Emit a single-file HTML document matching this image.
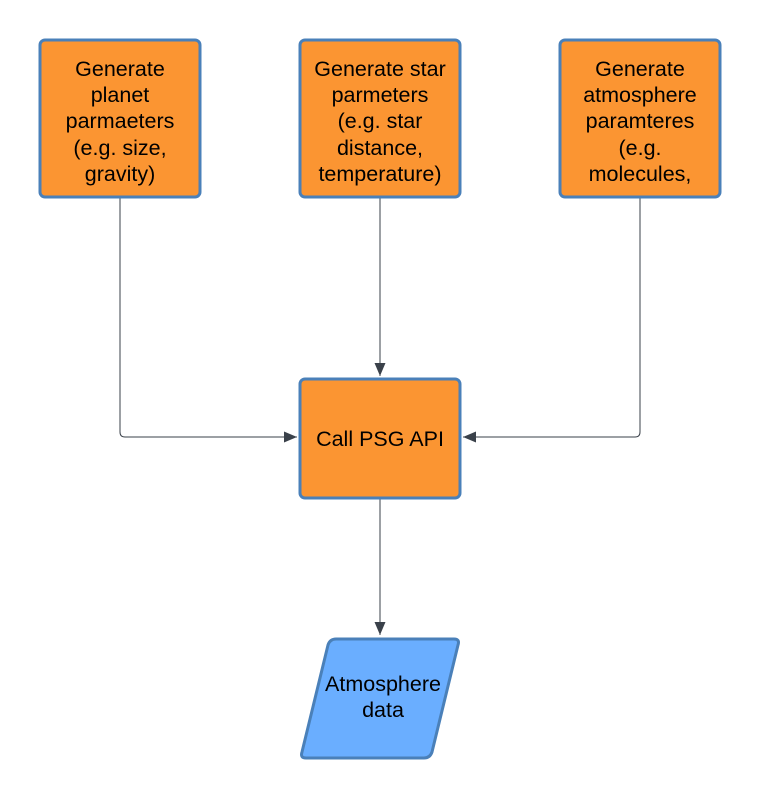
<!DOCTYPE html>
<html><head><style>
body{margin:0;background:#fff;width:760px;height:799px;overflow:hidden}
svg text{font-family:"Liberation Sans",sans-serif;font-size:21.5px;fill:#000;text-anchor:middle}
</style></head><body>
<svg width="760" height="799" viewBox="0 0 760 799">
<defs><marker id="a" markerWidth="14" markerHeight="14" refX="13" refY="7" orient="auto" markerUnits="userSpaceOnUse"><path d="M0,1.5 L13,7 L0,12.5 Z" fill="#3a414a"/></marker></defs>
<g fill="none" stroke="#3a414a" stroke-width="1">
<path d="M120,198 V432 Q120,437 125,437 H297" marker-end="url(#a)"/>
<path d="M380,198 V376" marker-end="url(#a)"/>
<path d="M640,198 V432 Q640,437 635,437 H463" marker-end="url(#a)"/>
<path d="M380,499 V635" marker-end="url(#a)"/>
</g>
<g fill="#fb9532" stroke="#4a80b9" stroke-width="3">
<rect x="40" y="40" width="160" height="157" rx="5"/>
<rect x="300" y="40" width="160" height="157" rx="5"/>
<rect x="560" y="40" width="160" height="157" rx="5"/>
<rect x="300" y="379" width="160" height="119" rx="5"/>
</g>
<path d="M336,639 H454 Q460,639 458,645 L432,752 Q430,758 424,758 H306 Q300,758 302,752 L328,645 Q330,639 336,639 Z" fill="#6aaeff" stroke="#4a80b9" stroke-width="3"/>
<text x="120" y="76">Generate</text><text x="120" y="102">planet</text><text x="120" y="128">parmaeters</text><text x="120" y="155">(e.g. size,</text><text x="120" y="181">gravity)</text>
<text x="380" y="76">Generate star</text><text x="380" y="102">parmeters</text><text x="380" y="128">(e.g. star</text><text x="380" y="155">distance,</text><text x="380" y="181">temperature)</text>
<text x="640" y="76">Generate</text><text x="640" y="102">atmosphere</text><text x="640" y="128">paramteres</text><text x="640" y="155">(e.g.</text><text x="640" y="181">molecules,</text>
<text x="380" y="446">Call PSG API</text>
<text x="383" y="691">Atmosphere</text><text x="383" y="717">data</text>
</svg>
</body></html>
